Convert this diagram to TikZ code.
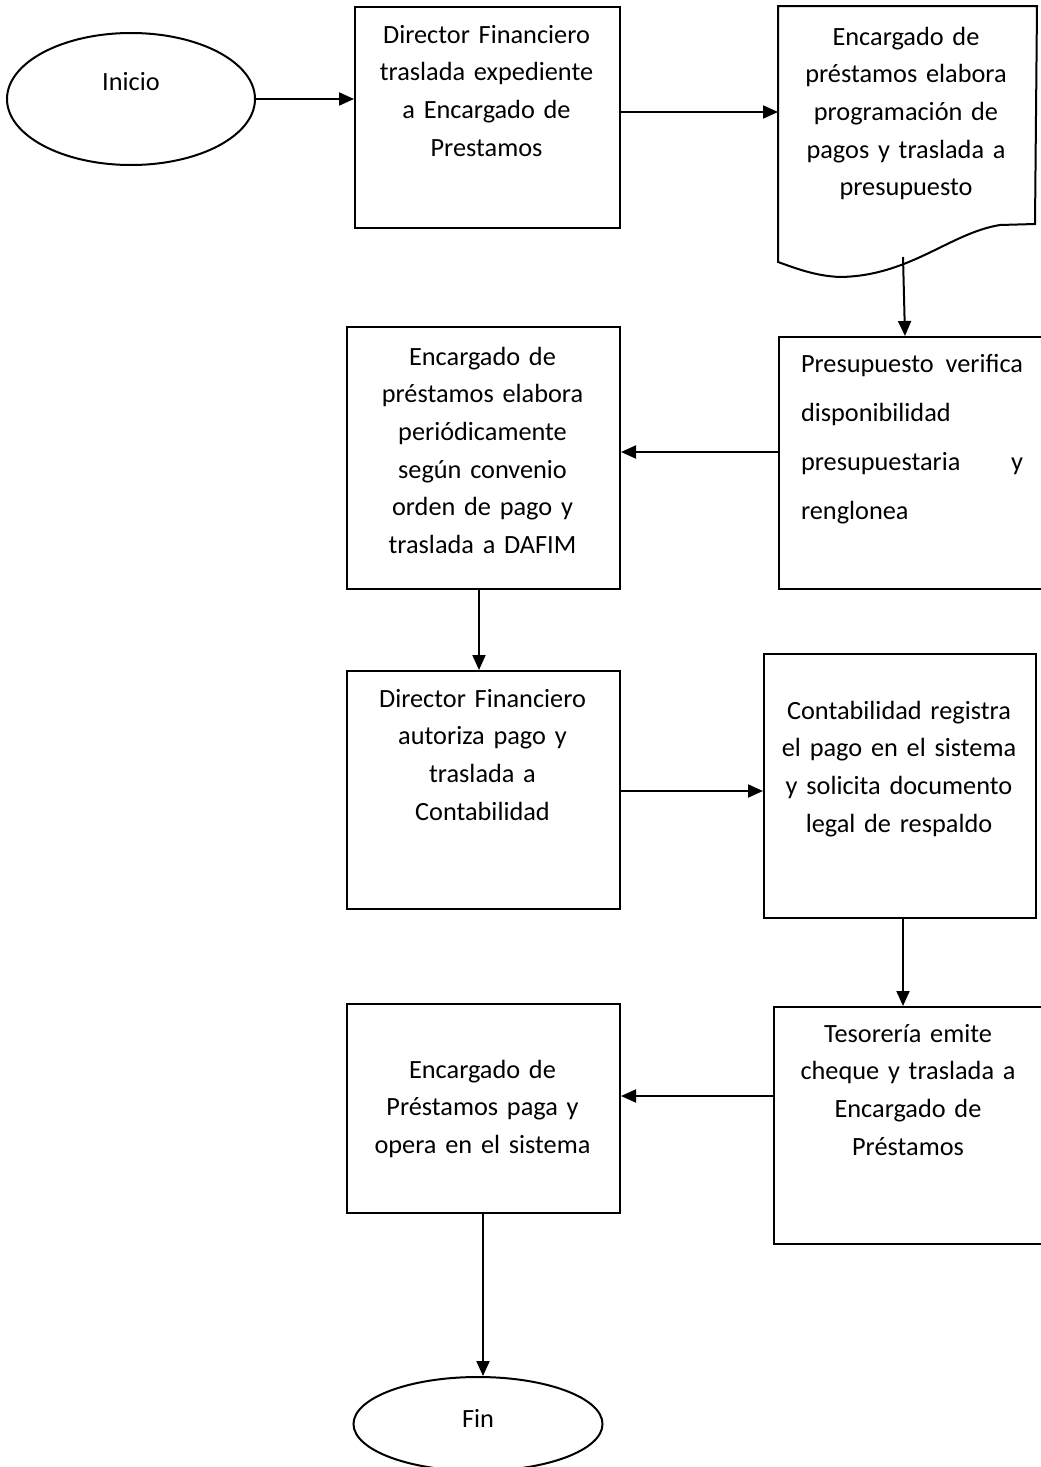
\documentclass[tikz,border=0pt]{standalone}
\usepackage{fontspec}
\setmainfont{Carlito}
\usetikzlibrary{arrows.meta,shapes.geometric}

\newcommand{\spreadline}[2]{\leavevmode\hbox to 222pt{#1\hfill #2}}

\begin{document}
\begin{tikzpicture}[x=1pt,y=-1pt,
  line width=2pt,
  box/.style={draw, rectangle, inner sep=0pt, anchor=north west},
  term/.style={draw, ellipse, inner sep=0pt},
  txt/.style={inner sep=0pt, align=center, font=\fontsize{26.3}{37.7}\selectfont},
  flow/.style={-{Triangle[length=15pt,width=13pt]}}
]
\useasboundingbox (0,0) rectangle (1041,1467);
\clip (0,0) rectangle (1041,1467);
\fill[white] (0,0) rectangle (1041,1467);

% terminals
\node[term, minimum width=248pt, minimum height=132pt] (inicio) at (131,99) {};
\node[txt, anchor=base] (iniciot) at (131,90) {Inicio};
\node[term, minimum width=249pt, minimum height=94pt] (fin) at (478,1424) {};
\node[txt, anchor=base] (fint) at (478,1427) {Fin};

% process boxes
\node[box, minimum width=265pt, minimum height=221pt] (b1) at (354,6) {};
\node[txt, text width=262pt, anchor=base] (b1t) at (486.5,43)
  {Director Financiero\\traslada expediente\\a Encargado de\\Prestamos};

% document shape with wavy bottom
\node[inner sep=0pt, anchor=north west, minimum width=257pt, minimum height=254pt] (doc) at (778,6) {};
\draw (doc.north west) -- (doc.north east) -- (1035,224) -- (1000,225)
  .. controls (950,233) and (910,276) .. (840,277)
  .. controls (815,276) and (795,268) .. (doc.south west) -- cycle;
\node[txt, text width=255pt, anchor=base] (doct) at (906,45)
  {Encargado de\\préstamos elabora\\programación de\\pagos y traslada a\\presupuesto};
\coordinate (docout) at (903,257);

\node[box, minimum width=272pt, minimum height=252pt] (pres) at (778,336) {};
\node[inner sep=0pt, align=left, text width=235pt, anchor=base west,
  font=\fontsize{26.3}{49}\selectfont] (prest) at (800,372)
  {\spreadline{Presupuesto}{verifica}\\disponibilidad\\\spreadline{presupuestaria}{y}\\renglonea};

\node[box, minimum width=273pt, minimum height=262pt] (b3) at (346,326) {};
\node[txt, text width=270pt, anchor=base] (b3t) at (482.5,365)
  {Encargado de\\préstamos elabora\\periódicamente\\según convenio\\orden de pago y\\traslada a DAFIM};

\node[box, minimum width=273pt, minimum height=238pt] (b4) at (346,670) {};
\node[txt, text width=270pt, anchor=base] (b4t) at (482.5,707)
  {Director Financiero\\autoriza pago y\\traslada a\\Contabilidad};

\node[box, minimum width=272pt, minimum height=264pt] (cont) at (763,653) {};
\node[txt, text width=270pt, anchor=base] (contt) at (899,719)
  {Contabilidad registra\\el pago en el sistema\\y solicita documento\\legal de respaldo};

\node[box, minimum width=272pt, minimum height=237pt] (tes) at (773,1006) {};
\node[txt, text width=268pt, anchor=base] (test) at (908,1042)
  {Tesorería emite\\cheque y traslada a\\Encargado de\\Préstamos};

\node[box, minimum width=273pt, minimum height=209pt] (b6) at (346,1003) {};
\node[txt, text width=270pt, anchor=base] (b6t) at (482.5,1078)
  {Encargado de\\Préstamos paga y\\opera en el sistema};

% connectors
\draw[flow] (inicio.east) -- (b1.west |- inicio.east);
\draw[flow] (b1.east |- 0,112) -- (doc.west |- 0,112);
\draw[flow] (docout) -- (pres.north -| 905,0);
\draw[flow] (pres.west |- 0,452) -- (b3.east |- 0,452);
\draw[flow] (b3.south -| 479,0) -- (b4.north -| 479,0);
\draw[flow] (b4.east |- 0,791) -- (cont.west |- 0,791);
\draw[flow] (cont.south -| 903,0) -- (tes.north -| 903,0);
\draw[flow] (tes.west |- 0,1096) -- (b6.east |- 0,1096);
\draw[flow] (b6.south -| 483,0) -- (fin.north -| 483,0);
\end{tikzpicture}
\end{document}
